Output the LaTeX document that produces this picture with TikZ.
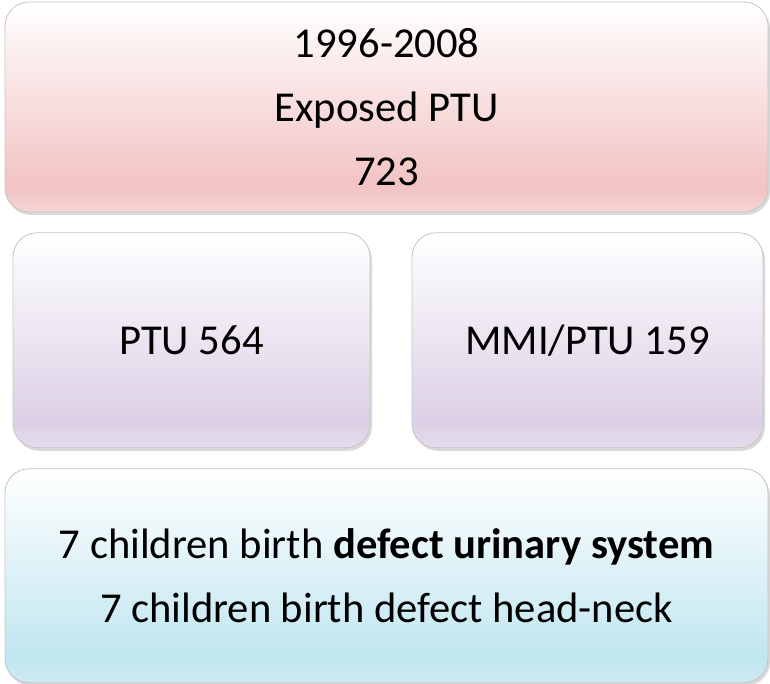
\documentclass[tikz,border=0pt]{standalone}
\usepackage{fontspec}
\setmainfont{Carlito}
\usetikzlibrary{positioning, shadows}
\definecolor{rosaCaja}{HTML}{F2C3C3}
\definecolor{lilaCaja}{HTML}{DCD0E6}
\definecolor{cianCaja}{HTML}{C1E6F0}
\definecolor{bordeCaja}{HTML}{C4C4C4}
% degradados verticales: blanco arriba, color abajo
\pgfdeclareverticalshading{degRosa}{100bp}{color(0bp)=(rosaCaja!70!white); color(25bp)=(rosaCaja!70!white);
  color(31bp)=(rosaCaja); color(75bp)=(white); color(100bp)=(white)}
\pgfdeclareverticalshading{degLila}{100bp}{color(0bp)=(lilaCaja!75!white); color(25bp)=(lilaCaja!75!white);
  color(31bp)=(lilaCaja); color(75bp)=(white); color(100bp)=(white)}
\pgfdeclareverticalshading{degCian}{100bp}{color(0bp)=(cianCaja!80!white); color(25bp)=(cianCaja!80!white);
  color(31bp)=(cianCaja); color(75bp)=(white); color(100bp)=(white)}
\tikzset{
  cajaBase/.style={
    draw=bordeCaja, line width=0.8pt, rounded corners=24pt,
    align=center, text=black, font=\fontsize{42.6}{64}\selectfont,
    drop shadow={shadow xshift=2pt, shadow yshift=-3pt, opacity=0.3}
  },
  cajaRosa/.style={cajaBase, shading=degRosa, minimum width=763pt, minimum height=210pt},
  cajaLila/.style={cajaBase, shading=degLila, minimum height=215pt},
  cajaCian/.style={cajaBase, shading=degCian, minimum width=763pt, minimum height=214pt},
}

\begin{document}
\begin{tikzpicture}[x=1pt, y=1pt]
    \useasboundingbox (0,0) rectangle (770,-684);
    \node[cajaRosa] (expuestos) at (386.5,-107) {1996-2008\\Exposed PTU\\723};
    \node[cajaLila, minimum width=357pt, below=20pt of expuestos.south west,
          anchor=north west, xshift=8pt] (ptu) {PTU 564};
    \node[cajaLila, minimum width=351pt, below=20pt of expuestos.south east,
          anchor=north east, xshift=-5pt] (mmi) {MMI/PTU 159};
    \node[cajaCian, below=256pt of expuestos] (defectos)
      {7 children birth \textbf{defect urinary system}\\7 children birth defect head-neck};
  \end{tikzpicture}
\end{document}
